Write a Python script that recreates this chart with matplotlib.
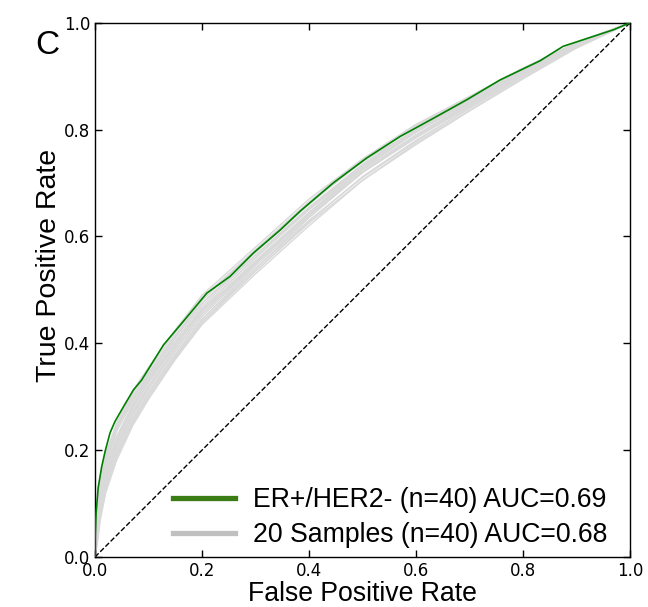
import matplotlib
matplotlib.use("Agg")
import matplotlib.pyplot as plt
from matplotlib.lines import Line2D
import numpy as np

# ROC curve of the ER+/HER2- signature
green_fpr = [0.0, 0.0, 0.002, 0.006, 0.0125, 0.019, 0.028, 0.037, 0.053, 0.072,
             0.087, 0.128, 0.165, 0.209, 0.252, 0.296, 0.346, 0.383, 0.445, 0.508,
             0.570, 0.632, 0.695, 0.757, 0.832, 0.875, 0.969, 1.0]
green_tpr = [0.0, 0.03, 0.082, 0.13, 0.169, 0.198, 0.232, 0.253, 0.281, 0.313,
             0.331, 0.397, 0.441, 0.494, 0.525, 0.569, 0.612, 0.647, 0.700, 0.747,
             0.787, 0.821, 0.856, 0.893, 0.929, 0.956, 0.987, 1.0]

# 20 random-sample signatures, all on the same FPR grid
sample_fpr = [0, 0.005, 0.01, 0.02, 0.04, 0.07, 0.1, 0.15, 0.2, 0.3, 0.4, 0.5,
              0.6, 0.7, 0.8, 0.9, 1.0]
sample_tpr = [
    [0, 0.10, 0.14, 0.19, 0.25, 0.31, 0.355, 0.425, 0.49, 0.58, 0.67, 0.745, 0.81, 0.862, 0.915, 0.962, 1],
    [0, 0.09, 0.13, 0.18, 0.24, 0.30, 0.345, 0.415, 0.48, 0.575, 0.662, 0.74, 0.80, 0.855, 0.91, 0.96, 1],
    [0, 0.07, 0.11, 0.16, 0.22, 0.28, 0.33, 0.40, 0.465, 0.56, 0.65, 0.73, 0.795, 0.852, 0.908, 0.958, 1],
    [0, 0.06, 0.10, 0.15, 0.21, 0.27, 0.32, 0.39, 0.455, 0.55, 0.64, 0.72, 0.785, 0.845, 0.905, 0.957, 1],
    [0, 0.05, 0.09, 0.14, 0.20, 0.26, 0.31, 0.38, 0.445, 0.54, 0.63, 0.71, 0.778, 0.84, 0.90, 0.955, 1],
    [0, 0.04, 0.08, 0.13, 0.19, 0.25, 0.30, 0.37, 0.435, 0.53, 0.62, 0.705, 0.772, 0.835, 0.895, 0.953, 1],
    [0, 0.08, 0.12, 0.17, 0.235, 0.29, 0.34, 0.405, 0.47, 0.565, 0.655, 0.735, 0.80, 0.856, 0.91, 0.96, 1],
    [0, 0.065, 0.105, 0.155, 0.215, 0.275, 0.325, 0.395, 0.46, 0.555, 0.645, 0.725, 0.79, 0.848, 0.906, 0.958, 1],
    [0, 0.03, 0.07, 0.12, 0.18, 0.245, 0.295, 0.37, 0.44, 0.54, 0.635, 0.72, 0.79, 0.85, 0.907, 0.958, 1],
    [0, 0.11, 0.15, 0.195, 0.245, 0.295, 0.335, 0.40, 0.46, 0.55, 0.64, 0.72, 0.785, 0.843, 0.902, 0.955, 1],
    [0, 0.055, 0.095, 0.145, 0.205, 0.265, 0.315, 0.385, 0.45, 0.548, 0.642, 0.727, 0.795, 0.853, 0.91, 0.96, 1],
    [0, 0.075, 0.115, 0.165, 0.225, 0.285, 0.335, 0.41, 0.475, 0.57, 0.66, 0.742, 0.806, 0.86, 0.914, 0.963, 1],
    [0, 0.045, 0.085, 0.135, 0.195, 0.255, 0.305, 0.375, 0.44, 0.535, 0.625, 0.705, 0.775, 0.836, 0.897, 0.953, 1],
    [0, 0.085, 0.125, 0.175, 0.235, 0.295, 0.342, 0.412, 0.475, 0.565, 0.652, 0.732, 0.797, 0.853, 0.909, 0.959, 1],
    [0, 0.06, 0.10, 0.15, 0.215, 0.28, 0.33, 0.40, 0.465, 0.56, 0.652, 0.735, 0.80, 0.857, 0.912, 0.961, 1],
    [0, 0.035, 0.075, 0.125, 0.185, 0.25, 0.30, 0.372, 0.438, 0.535, 0.628, 0.712, 0.78, 0.84, 0.9, 0.955, 1],
    [0, 0.095, 0.135, 0.185, 0.245, 0.305, 0.35, 0.42, 0.485, 0.575, 0.665, 0.745, 0.808, 0.862, 0.915, 0.963, 1],
    [0, 0.07, 0.11, 0.16, 0.22, 0.282, 0.33, 0.398, 0.462, 0.552, 0.642, 0.722, 0.788, 0.847, 0.905, 0.957, 1],
    [0, 0.05, 0.092, 0.142, 0.205, 0.268, 0.318, 0.39, 0.455, 0.55, 0.645, 0.73, 0.797, 0.855, 0.91, 0.96, 1],
    [0, 0.04, 0.08, 0.13, 0.19, 0.255, 0.305, 0.378, 0.445, 0.545, 0.637, 0.72, 0.786, 0.846, 0.904, 0.957, 1],
]

green_label = "ER+/HER2- (n=40) AUC=0.69"
sample_label = "20 Samples (n=40) AUC=0.68"
ticks = [0.0, 0.2, 0.4, 0.6, 0.8, 1.0]

LABEL_FONT = "Liberation Sans"

fig = plt.figure(figsize=(6.48, 6.07), dpi=100)
ax = fig.add_axes([0.1466, 0.0824, 0.8256, 0.880])

for row in sample_tpr:
    ax.plot(sample_fpr, row, color="#d9d9d9", lw=1.0, zorder=1)
ax.plot(green_fpr, green_tpr, color="green", lw=1.2, zorder=3)
ax.plot([0, 1], [0, 1], "k--", lw=1.0, zorder=2)

ax.set_xlim(0, 1)
ax.set_ylim(0, 1)
ax.set_xticks(ticks)
ax.set_yticks(ticks)
ax.set_xticklabels([f"{t:.1f}" for t in ticks], fontsize=12)
ax.set_yticklabels([f"{t:.1f}" for t in ticks], fontsize=12)
ax.tick_params(direction="in", top=True, right=True, length=5, width=1, pad=3.5)
ax.set_xlabel("False Positive Rate", fontsize=19.2, family=LABEL_FONT, labelpad=1)
ax.set_ylabel("True Positive Rate", fontsize=20.5, family=LABEL_FONT,
              labelpad=1, y=0.545)
for sp in ax.spines.values():
    sp.set_linewidth(1.0)

handles = [Line2D([], [], color="#3a7d14", lw=3.8),
           Line2D([], [], color="#c0c0c0", lw=3.8)]
ax.legend(handles, [green_label, sample_label], loc="lower right",
          bbox_to_anchor=(0.981, -0.006),
          frameon=False, prop={"family": LABEL_FONT, "size": 19.2},
          handlelength=2.3, handletextpad=0.7, labelspacing=0.34,
          borderaxespad=0.05)

fig.text(47 / 648, 1 - 46 / 607, "C", fontsize=24, family=LABEL_FONT,
         ha="center", va="center")

fig.savefig("out.png", dpi=100)
